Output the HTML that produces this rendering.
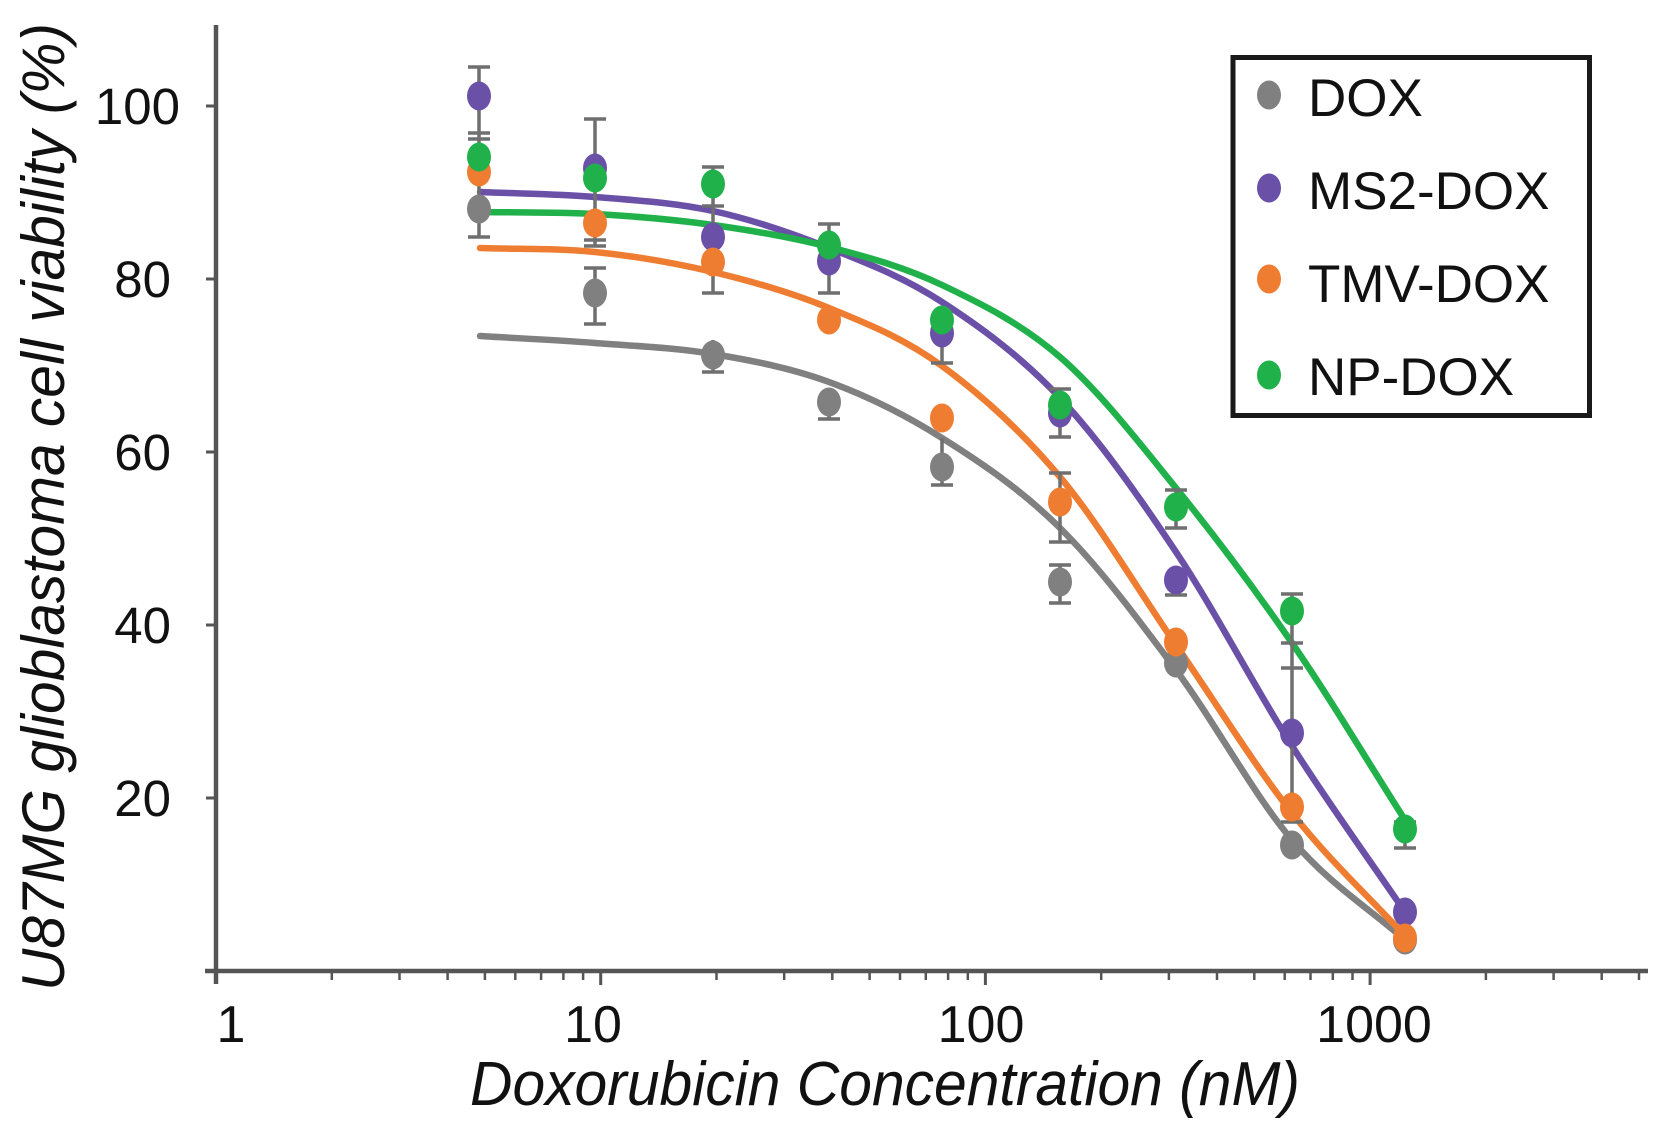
<!DOCTYPE html>
<html>
<head>
<meta charset="utf-8">
<style>
html, body { margin: 0; padding: 0; background: #ffffff; }
svg { display: block; }
text { font-family: "Liberation Sans", Arial, sans-serif; fill: #111; }
</style>
</head>
<body>
<svg width="1659" height="1137" viewBox="0 0 1659 1137" xmlns="http://www.w3.org/2000/svg">
<rect width="1659" height="1137" fill="#ffffff"/>
<text transform="translate(64,507) rotate(-90)" text-anchor="middle" font-size="60" font-style="italic" textLength="968" lengthAdjust="spacingAndGlyphs">U87MG glioblastoma cell viability (%)</text>
<g font-size="51" text-anchor="end">
<text x="180" y="124">100</text>
<text x="171" y="297">80</text>
<text x="171" y="470">60</text>
<text x="171" y="643">40</text>
<text x="171" y="816">20</text>
</g>
<g font-size="52" text-anchor="middle">
<text x="231" y="1042">1</text>
<text x="593" y="1042">10</text>
<text x="981" y="1042">100</text>
<text x="1374" y="1042">1000</text>
</g>
<text x="885" y="1105" text-anchor="middle" font-size="62" font-style="italic" textLength="830" lengthAdjust="spacingAndGlyphs">Doxorubicin Concentration (nM)</text>

<path d="M216,25V984M205,971H1648" stroke="#555" stroke-width="4.5" fill="none"/>
<path d="M206,106h10M206,279h10M206,452h10M206,625h10M206,798h10M600.7,971v14M985.4,971v14M1370.1,971v14" stroke="#555" stroke-width="3" fill="none"/>
<path d="M331.8,971v9M399.5,971v9M447.6,971v9M484.9,971v9M515.3,971v9M541.1,971v9M563.4,971v9M583.1,971v9M716.5,971v9M784.2,971v9M832.3,971v9M869.6,971v9M900,971v9M925.8,971v9M948.1,971v9M967.8,971v9M1101.2,971v9M1168.9,971v9M1217,971v9M1254.3,971v9M1284.7,971v9M1310.5,971v9M1332.8,971v9M1352.5,971v9M1485.9,971v9M1553.6,971v9M1601.7,971v9M1639,971v9" stroke="#555" stroke-width="2.5" fill="none"/>

<g fill="none" stroke-width="6.5" stroke-linejoin="round" stroke-linecap="round">
<path stroke="#808080" d="M480,336 C518.3,338.3 556.2,340 595,343 C633.8,346 674,347.5 713,354 C752,360.5 790.8,368 829,382 C867.2,396 903.5,413.7 942,438 C980.5,462.3 1021,489.3 1060,528 C1099,566.7 1137.3,618 1176,670 C1214.7,722 1253.8,795 1292,840 C1330.2,885 1367.3,906.7 1405,940"/>
<path stroke="#6a50a7" d="M480,192 C518.3,193.7 556.2,193.8 595,197 C633.8,200.2 674,202.5 713,211 C752,219.5 790.8,232.8 829,248 C867.2,263.2 903.5,277 942,302 C980.5,327 1021,356.3 1060,398 C1099,439.7 1137.3,494 1176,552 C1214.7,610 1253.8,686 1292,746 C1330.2,806 1367.3,856.7 1405,912"/>
<path stroke="#ef7d31" d="M480,248 C518.3,249.3 556.2,248 595,252 C633.8,256 674,262.7 713,272 C752,281.3 790.8,292.3 829,308 C867.2,323.7 903.5,337.8 942,366 C980.5,394.2 1021,430.5 1060,477 C1099,523.5 1137.3,589 1176,645 C1214.7,701 1253.8,764.5 1292,813 C1330.2,861.5 1367.3,895 1405,936"/>
<path stroke="#21b14b" d="M480,212 C518.3,212.7 556.2,211.8 595,214 C633.8,216.2 674,219.5 713,225 C752,230.5 790.8,237 829,247 C867.2,257 903.5,266.7 942,285 C980.5,303.3 1021,323.2 1060,357 C1099,390.8 1137.3,440.3 1176,488 C1214.7,535.7 1253.8,587.7 1292,643 C1330.2,698.3 1367.3,761 1405,820"/>
</g>

<path stroke="#6f6f6f" stroke-width="3.5" fill="none" d="
M479,67V237 M468,67h22 M468,133h22 M468,139h22 M468,237h22
M595,119V246 M584,119h22 M584,240h22 M584,246h22
M595,268V324 M584,268h22 M584,324h22
M713,167V293 M702,167h22 M702,206h22 M702,293h22
M713,340V372 M702,372h22
M829,224V293 M818,224h22 M818,293h22
M829,395V419 M818,419h22
M942,333V363 M931,363h22
M942,438V485 M931,485h22
M1060,389V437 M1049,389h22 M1049,437h22
M1060,473V542 M1049,473h22 M1049,542h22
M1060,565V603 M1049,565h22 M1049,603h22
M1176,490V528 M1165,490h22 M1165,528h22
M1176,580V595 M1165,595h22
M1292,594V822 M1281,594h22 M1281,643h22 M1281,668h22 M1281,822h22
M1405,822V848 M1394,822h22 M1394,848h22"/>

<g fill="#808080">
<ellipse cx="479" cy="209" rx="12" ry="14.5"/>
<ellipse cx="595" cy="293" rx="12" ry="14.5"/>
<ellipse cx="713" cy="355" rx="12" ry="14.5"/>
<ellipse cx="829" cy="402" rx="12" ry="14.5"/>
<ellipse cx="942" cy="467" rx="12" ry="14.5"/>
<ellipse cx="1060" cy="582" rx="12" ry="14.5"/>
<ellipse cx="1176" cy="663" rx="12" ry="14.5"/>
<ellipse cx="1292" cy="845" rx="12" ry="14.5"/>
<ellipse cx="1405" cy="940" rx="12" ry="14.5"/>
</g>
<g fill="#6a50a7">
<ellipse cx="479" cy="96" rx="12" ry="14.5"/>
<ellipse cx="595" cy="168" rx="12" ry="14.5"/>
<ellipse cx="713" cy="237" rx="12" ry="14.5"/>
<ellipse cx="829" cy="261" rx="12" ry="14.5"/>
<ellipse cx="942" cy="333" rx="12" ry="14.5"/>
<ellipse cx="1060" cy="413" rx="12" ry="14.5"/>
<ellipse cx="1176" cy="580" rx="12" ry="14.5"/>
<ellipse cx="1292" cy="733" rx="12" ry="14.5"/>
<ellipse cx="1405" cy="912" rx="12" ry="14.5"/>
</g>
<g fill="#ef7d31">
<ellipse cx="479" cy="172" rx="12" ry="14.5"/>
<ellipse cx="595" cy="223" rx="12" ry="14.5"/>
<ellipse cx="713" cy="262" rx="12" ry="14.5"/>
<ellipse cx="829" cy="320" rx="12" ry="14.5"/>
<ellipse cx="942" cy="418" rx="12" ry="14.5"/>
<ellipse cx="1060" cy="502" rx="12" ry="14.5"/>
<ellipse cx="1176" cy="642" rx="12" ry="14.5"/>
<ellipse cx="1292" cy="807" rx="12" ry="14.5"/>
<ellipse cx="1405" cy="938" rx="12" ry="14.5"/>
</g>
<g fill="#21b14b">
<ellipse cx="479" cy="157" rx="12" ry="14.5"/>
<ellipse cx="595" cy="178" rx="12" ry="14.5"/>
<ellipse cx="713" cy="184" rx="12" ry="14.5"/>
<ellipse cx="829" cy="245" rx="12" ry="14.5"/>
<ellipse cx="942" cy="320" rx="12" ry="14.5"/>
<ellipse cx="1060" cy="405" rx="12" ry="14.5"/>
<ellipse cx="1176" cy="507" rx="12" ry="14.5"/>
<ellipse cx="1292" cy="611" rx="12" ry="14.5"/>
<ellipse cx="1405" cy="829" rx="12" ry="14.5"/>
</g>

<rect x="1233" y="57.5" width="356.5" height="358" fill="#ffffff" stroke="#1a1a1a" stroke-width="5"/>
<ellipse cx="1269" cy="95" rx="12" ry="14.5" fill="#808080"/>
<ellipse cx="1269" cy="188" rx="12" ry="14.5" fill="#6a50a7"/>
<ellipse cx="1269" cy="279" rx="12" ry="14.5" fill="#ef7d31"/>
<ellipse cx="1269" cy="375" rx="12" ry="14.5" fill="#21b14b"/>
<g font-size="53">
<text x="1308" y="116">DOX</text>
<text x="1308" y="209">MS2-DOX</text>
<text x="1308" y="302">TMV-DOX</text>
<text x="1308" y="395">NP-DOX</text>
</g>
</svg>
</body>
</html>
